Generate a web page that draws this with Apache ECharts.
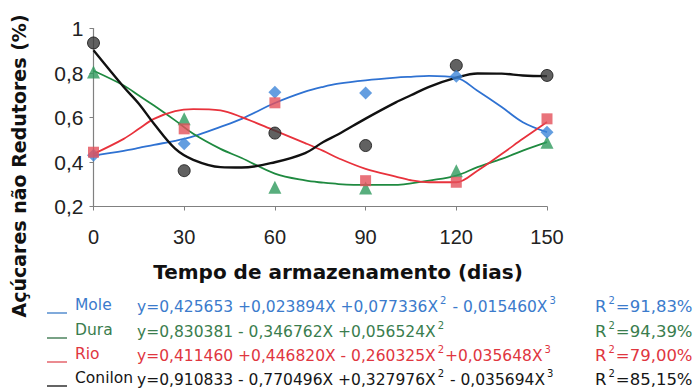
<!DOCTYPE html>
<html>
<head>
<meta charset="utf-8">
<script src="https://cdn.jsdelivr.net/npm/echarts@6/dist/echarts.min.js"></script>
<style>
  html, body { margin: 0; padding: 0; background: #fff; }
  #chart { width: 697px; height: 390px; }
</style>
</head>
<body>
<div id="chart"></div>
<script>
// Storage time (days) of the sampled lots
const days = [0, 30, 60, 90, 120, 150];
const yTicks = [0.2, 0.4, 0.6, 0.8, 1];

// Observed non-reducing sugars (%) per coffee type
const moleObs    = [0.43, 0.482, 0.714, 0.71, 0.785, 0.534];
const duraObs    = [0.804, 0.594, 0.286, 0.283, 0.361, 0.489];
const rioObs     = [0.444, 0.549, 0.666, 0.316, 0.309, 0.594];
const conilonObs = [0.935, 0.361, 0.53, 0.474, 0.834, 0.789];

// Regression curves, sampled along the storage period
const curveDays    = [0, 10, 15, 20, 27, 33, 42, 49, 60, 70, 76, 81, 90, 100, 105, 111, 120, 127, 135, 142, 150];
const moleCurve    = [0.429, 0.45, 0.463, 0.477, 0.495, 0.515, 0.558, 0.594, 0.665, 0.716, 0.738, 0.752, 0.767, 0.779, 0.783, 0.787, 0.779, 0.72, 0.647, 0.579, 0.534];
const duraCurve    = [0.81, 0.744, 0.699, 0.654, 0.587, 0.527, 0.459, 0.418, 0.348, 0.317, 0.307, 0.301, 0.297, 0.297, 0.304, 0.316, 0.339, 0.377, 0.414, 0.451, 0.489];
const rioCurve     = [0.436, 0.504, 0.549, 0.594, 0.629, 0.638, 0.632, 0.602, 0.541, 0.485, 0.45, 0.417, 0.369, 0.334, 0.318, 0.309, 0.309, 0.361, 0.436, 0.504, 0.58];
const conilonCurve = [0.902, 0.737, 0.662, 0.572, 0.46, 0.41, 0.377, 0.375, 0.399, 0.44, 0.49, 0.525, 0.595, 0.668, 0.70, 0.738, 0.779, 0.798, 0.797, 0.789, 0.786];

// Legend rows: name, equation pieces (text, exponent, text, exponent), R²
const legendNames = ['Mole', 'Dura', 'Rio', 'Conilon'];
const legendEq = [
  ['y=0,425653 +0,023894X +0,077336X', '2', ' - 0,015460X', '3'],
  ['y=0,830381 - 0,346762X +0,056524X', '2', '', ''],
  ['y=0,411460 +0,446820X - 0,260325X', '2', '+0,035648X', '3'],
  ['y=0,910833 - 0,770496X +0,327976X', '2', ' - 0,035694X', '3']
];
const legendR2 = ['91,83%', '94,39%', '79,00%', '85,15%'];

const lineColors   = ['#2f72d2', '#1f8a40', '#e8323c', '#111111'];
const markerColors = ['#3d86d8', '#2e9a5c', '#e4505a', '#3a3a3a'];
const textColors   = ['#3b7bcc', '#3a7d4e', '#e0363f', '#161616'];
const keyColors    = ['#4a86cc', '#3f7a52', '#e35a62', '#222222'];
const symbols      = ['diamond', 'triangle', 'rect', 'circle'];
const symbolSizes  = [13, 13, 11, 12];

const SANS = '"Liberation Sans", Arial, sans-serif';
const WIDE = '"DejaVu Sans", Verdana, sans-serif';

const pairs = (xs, ys) => xs.map((x, i) => [x, ys[i]]);
const obs = [moleObs, duraObs, rioObs, conilonObs];
const curves = [moleCurve, duraCurve, rioCurve, conilonCurve];

const series = [];
curves.forEach((c, i) => {
  series.push({
    type: 'line', name: legendNames[i] + ' ajuste',
    data: pairs(curveDays, c), smooth: 0.35, showSymbol: false,
    lineStyle: { color: lineColors[i], width: i === 3 ? 2.4 : 1.8 },
    z: 2, silent: true
  });
});
// Marker order keeps the red square above the blue diamond at day 0
[3, 1, 0, 2].forEach(i => {
  series.push({
    type: 'scatter', name: legendNames[i],
    data: pairs(days, obs[i]), symbol: symbols[i], symbolSize: symbolSizes[i],
    itemStyle: {
      color: markerColors[i],
      borderColor: i === 3 ? '#111' : markerColors[i],
      borderWidth: i === 3 ? 1 : 0
    },
    z: 3
  });
});

// Bottom key with the fitted equations
const graphic = [];
const rowY = [305, 330, 354, 378];
const richStyles = (i, size) => ({
  t: { fontSize: size, fontFamily: WIDE, fill: textColors[i], lineHeight: 20, verticalAlign: 'bottom' },
  s: { fontSize: 10, fontFamily: WIDE, fill: textColors[i], lineHeight: 20, verticalAlign: 'top', padding: [0, 1, 0, 2] }
});
legendNames.forEach((n, i) => {
  graphic.push({
    type: 'line', shape: { x1: 47, y1: rowY[i] + 8, x2: 67, y2: rowY[i] + 8 },
    style: { stroke: keyColors[i], lineWidth: 1.4 }
  });
  graphic.push({
    type: 'text', x: 75, y: rowY[i],
    style: { text: n, fill: textColors[i], font: '15.5px ' + WIDE, verticalAlign: 'middle' }
  });
  const eq = legendEq[i];
  let rich = '{t|' + eq[0] + '}{s|' + eq[1] + '}';
  if (eq[2]) rich += '{t|' + eq[2] + '}{s|' + eq[3] + '}';
  graphic.push({
    type: 'text', x: 137, y: rowY[i] - 10,
    style: { text: rich, rich: richStyles(i, 15.5) }
  });
  graphic.push({
    type: 'text', x: 595, y: rowY[i] - 10,
    style: { text: '{t|R}{s|2}{t|=' + legendR2[i] + '}', rich: richStyles(i, 16.5) }
  });
});
// Axis titles
graphic.push({
  type: 'text', x: 19, y: 166, rotation: Math.PI / 2,
  style: {
    text: 'Açúcares não Redutores (%)', fill: '#111',
    font: 'bold 19px ' + WIDE, align: 'center', verticalAlign: 'middle'
  }
});
graphic.push({
  type: 'text', x: 338, y: 272,
  style: {
    text: 'Tempo de armazenamento (dias)', fill: '#111',
    font: 'bold 20px ' + WIDE, align: 'center', verticalAlign: 'middle'
  }
});

const chart = echarts.init(document.getElementById('chart'), null, { renderer: 'svg' });
chart.setOption({
  animation: false,
  backgroundColor: '#fff',
  grid: { left: 93.5, right: 150, top: 28.5, bottom: 183.5 },
  xAxis: {
    type: 'value', min: 0, max: 150, interval: 30,
    axisLine: { lineStyle: { color: '#808080', width: 1.2 } },
    axisTick: { show: true, length: 4, lineStyle: { color: '#808080' } },
    axisLabel: { fontSize: 20, color: '#222', margin: 20, fontFamily: SANS },
    splitLine: { show: false }
  },
  yAxis: {
    type: 'value', min: yTicks[0], max: yTicks[yTicks.length - 1], interval: 0.2,
    axisLine: { show: true, lineStyle: { color: '#808080', width: 1.2 } },
    axisTick: { show: true, length: 4, lineStyle: { color: '#808080' } },
    axisLabel: {
      fontSize: 21, color: '#222', margin: 10, fontFamily: SANS,
      formatter: v => String(Math.round(v * 10) / 10).replace('.', ',')
    },
    splitLine: { show: false }
  },
  series: series,
  graphic: graphic
});
</script>
</body>
</html>
